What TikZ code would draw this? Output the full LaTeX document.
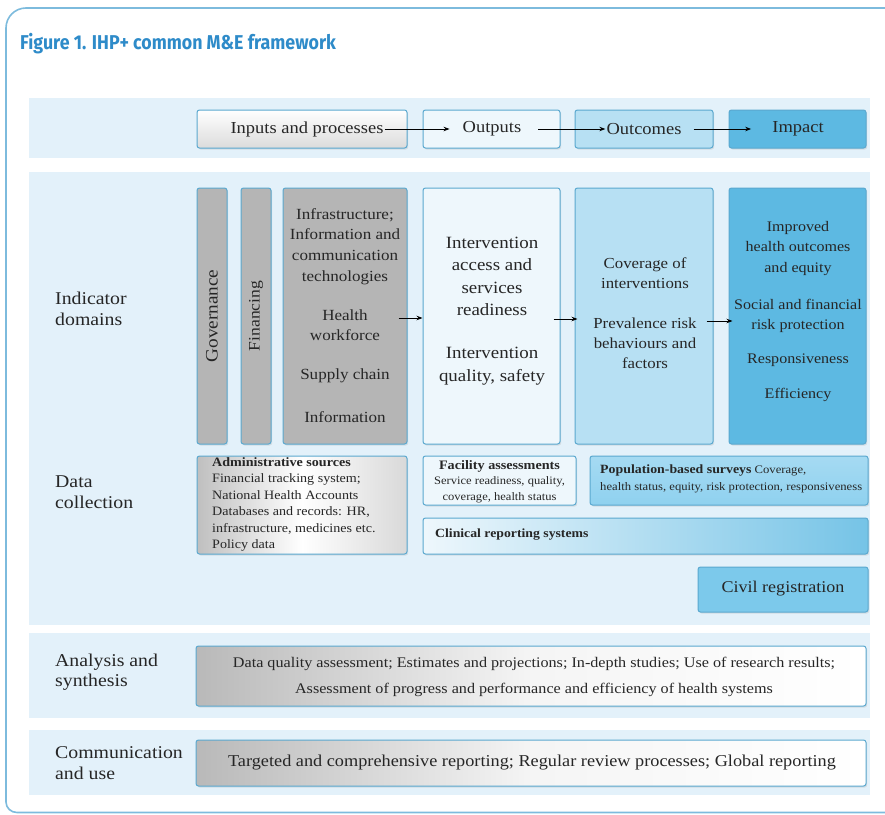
\documentclass[tikz,border=0pt]{standalone}
\usepackage{fontspec}
\setmainfont{Liberation Serif}[FakeStretch=1.1]
\newfontfamily\titlefont[FakeStretch=0.89]{Fira Sans}
\usetikzlibrary{arrows.meta,shadows,fit}
\definecolor{bandc}{HTML}{E3F1FA}
\definecolor{bordc}{HTML}{5AA8CF}
\definecolor{framec}{HTML}{7DBBDD}
\definecolor{lightc}{HTML}{EEF7FC}
\definecolor{midc}{HTML}{B7E0F3}
\definecolor{darkc}{HTML}{5DB9E2}
\definecolor{greyc}{HTML}{B5B5B5}
\definecolor{civilc}{HTML}{7CC9EB}
\definecolor{popc}{HTML}{8FD1EF}
\definecolor{txtc}{HTML}{262626}
\definecolor{titlec}{HTML}{2E8BC9}
\tikzset{
  box/.style={draw=bordc, line width=1pt, rounded corners=2.5pt, inner sep=0pt,
     drop shadow={opacity=0.18, shadow xshift=1.2pt, shadow yshift=-1.5pt}},
  band/.style={fill=bandc},
  txt/.style={text=txtc, align=center, inner sep=1pt},
  lab/.style={text=txtc, align=left, anchor=west, inner sep=0pt, font=\fontsize{18}{20.5}\selectfont},
  arr/.style={-{Stealth[length=6pt,width=4.5pt]}, line width=0.9pt, black},
  big/.style={font=\fontsize{16.8}{21}\selectfont}
}
\begin{document}
\begin{tikzpicture}[x=1pt,y=-1pt]
\useasboundingbox (0,0) rectangle (885,814);
\clip (0,0) rectangle (885,814);
\fill[white] (0,0) rectangle (885,814);
% outer frame
\draw[framec, line width=1.6pt] (950,8) -- (26,8) to[out=180,in=90] (6,28) -- (6,802) to[out=-90,in=180] (17,812.5) -- (950,812.5);
% title
\node[anchor=base west, inner sep=0pt, text=titlec, font=\titlefont\bfseries\fontsize{20}{24}\selectfont] (title) at (20,49) {Figure 1. IHP+ common M\&E framework};
% bands
\fill[band] (29,98) rectangle (870,158);
\fill[band] (29,172) rectangle (870,625);
\fill[band] (29,633) rectangle (870,718);
\fill[band] (29,730) rectangle (870,795);
% top row
\node[box, fit={(197,110) (407,148)}, top color=white, bottom color=gray!28] (inp) {};
\node[box, fit={(423,110) (560,148)}, fill=lightc] (out) {};
\node[box, fit={(575,110) (713,148)}, fill=midc] (com) {};
\node[box, fit={(729,110) (866,148)}, fill=darkc] (imp) {};
\node[txt, big] (tinp) at (307,129) {Inputs and processes};
\node[txt, big] (tout) at (492,129) {Outputs};
\node[txt, big] (tcom) at (644,129) {Outcomes};
\node[txt, big] (timp) at (798,129) {Impact};
\draw[arr] (tinp.east) -- ([xshift=-12pt]tout.west);
\draw[arr] ([xshift=16pt]tout.east) -- (tcom.west);
\draw[arr] ([xshift=11pt]tcom.east) -- ([xshift=-20pt]timp.west);
% labels
\node[lab] (lind) at (55,309) {Indicator\\domains};
\node[lab] (ldat) at (55,492) {Data\\collection};
\node[lab] (lana) at (55,672) {Analysis and\\synthesis};
\node[lab] (lcom) at (55,763) {Communication\\and use};
% indicator domains
\node[box, fit={(197,188) (227,444)}, fill=greyc] (gov) {};
\node[box, fit={(241,188) (271,444)}, fill=greyc] (fin) {};
\node[txt, font=\fontsize{17.5}{21}\selectfont, rotate=90] (tgov) at (212,316) {Governance};
\node[txt, font=\fontsize{16}{21}\selectfont, rotate=90] (tfin) at (256,316) {Financing};
\node[box, fit={(283,188) (407,444)}, fill=greyc] (gbox) {};
\node[box, fit={(423,188) (560,444)}, fill=lightc] (intv) {};
\node[box, fit={(575,188) (713,444)}, fill=midc] (cov) {};
\node[box, fit={(729,188) (866,444)}, fill=darkc] (res) {};
\node[txt, font=\fontsize{15.5}{20.8}\selectfont] (g1) at (345,246.5) {Infrastructure;\\Information and\\communication\\technologies};
\node[txt, font=\fontsize{15.5}{20}\selectfont] (g2) at (345,325) {Health\\workforce};
\node[txt, font=\fontsize{15.5}{20}\selectfont] (g3) at (345,376) {Supply chain};
\node[txt, font=\fontsize{15.5}{20}\selectfont] (g4) at (345,417) {Information};
\node[txt, font=\fontsize{17.2}{22.3}\selectfont] (i1) at (492,276.5) {Intervention\\access and\\services\\readiness};
\node[txt, font=\fontsize{17.2}{23}\selectfont] (i2) at (492,366.5) {Intervention\\quality, safety};
\node[txt, font=\fontsize{15.3}{20}\selectfont] (c1) at (645,273) {Coverage of\\interventions};
\node[txt, font=\fontsize{15.3}{20}\selectfont] (c2) at (645,343) {Prevalence risk\\behaviours and\\factors};
\node[txt, font=\fontsize{14.6}{20.5}\selectfont] (m1) at (798,248.5) {Improved\\health outcomes\\and equity};
\node[txt, font=\fontsize{14.6}{20}\selectfont] (m2) at (798,316) {Social and financial\\risk protection};
\node[txt, font=\fontsize{14.6}{20}\selectfont] (m3) at (798,360) {Responsiveness};
\node[txt, font=\fontsize{14.6}{20}\selectfont] (m4) at (798,395) {Efficiency};
\draw[arr] ([xshift=-9pt,yshift=-2pt]gbox.east) -- ([yshift=-2pt]intv.west);
\draw[arr] ([xshift=-7pt,yshift=-3pt]intv.east) -- ([xshift=3pt,yshift=-3pt]cov.west);
\draw[arr] ([xshift=-7pt,yshift=-5pt]cov.east) -- ([xshift=4pt,yshift=-5pt]res.west);
% data collection
\node[box, fit={(197,456) (407,554)}, left color=gray!50, right color=gray!30, middle color=white] (adm) {};
\node[txt, anchor=west, align=left, font=\fontsize{12.8}{16.4}\selectfont] (tadm) at (211,504.5) {\textbf{Administrative sources}\\Financial tracking system;\\National Health Accounts\\Databases and records: HR,\\infrastructure, medicines etc.\\Policy data};
\node[box, fit={(423,456) (576,505)}, fill=lightc] (fac) {};
\node[txt, font=\fontsize{11.4}{15.5}\selectfont] (tfac) at (499.5,481.5) {{\fontsize{12.9}{15.5}\selectfont\textbf{Facility assessments}}\\Service readiness, quality,\\coverage, health status};
\node[box, fit={(590,456) (868,505)}, top color=popc!80!white, bottom color=popc] (pop) {};
\node[txt, anchor=west, align=left, font=\fontsize{11.5}{16.5}\selectfont] (tpop) at (599,479) {{\fontsize{12.6}{16.5}\selectfont\textbf{Population-based surveys}} Coverage,\\health status, equity, risk protection, responsiveness};
\node[box, fit={(423,518) (868,554)}, left color=lightc, right color=darkc!85] (cli) {};
\node[txt, anchor=west, font=\fontsize{12.5}{15}\selectfont\bfseries] (tcli) at (434,535) {Clinical reporting systems};
\node[box, fit={(698,567) (868,612)}, fill=civilc] (civ) {};
\node[txt, font=\fontsize{16.4}{18}\selectfont] (tciv) at (783,589) {Civil registration};
% analysis
\node[box, fit={(196,646) (866,706)}, left color=gray!55, right color=white, middle color=white!92!gray] (ana) {};
\node[txt, font=\fontsize{14.7}{25.5}\selectfont] (tana) at (534,677) {Data quality assessment; Estimates and projections; In-depth studies; Use of research results;\\Assessment of progress and performance and efficiency of health systems};
% communication
\node[box, fit={(196,740) (866,786)}, left color=gray!55, right color=white, middle color=white!92!gray] (cmu) {};
\node[txt, font=\fontsize{16.6}{20}\selectfont] (tcmu) at (532,763) {Targeted and comprehensive reporting; Regular review processes; Global reporting};
\end{tikzpicture}
\end{document}
